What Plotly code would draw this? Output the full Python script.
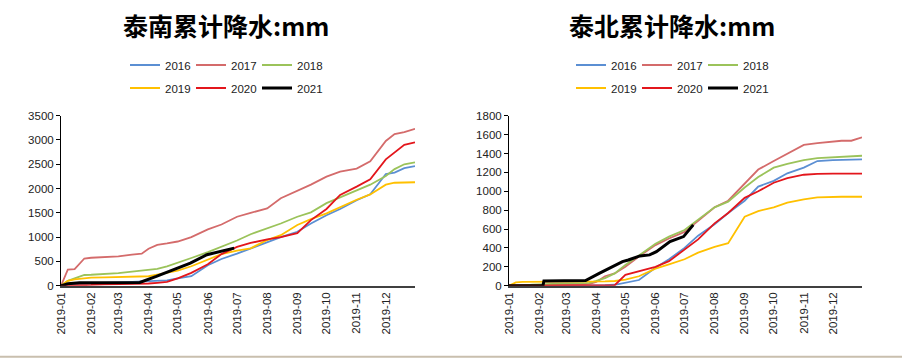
import plotly.graph_objects as go

# ---------------- data ----------------
DATES = ["2019-01-01", "2019-01-08", "2019-01-15", "2019-01-25", "2019-02-01", "2019-02-15",
         "2019-03-01", "2019-03-15", "2019-03-25", "2019-04-01", "2019-04-10", "2019-04-20",
         "2019-05-01", "2019-05-15", "2019-06-01", "2019-06-15", "2019-07-01", "2019-07-15",
         "2019-08-01", "2019-08-15", "2019-09-01", "2019-09-15", "2019-10-01", "2019-10-15",
         "2019-11-01", "2019-11-15", "2019-12-01", "2019-12-10", "2019-12-20", "2019-12-31"]

YEARS = ["2016", "2017", "2018", "2019", "2020", "2021"]

# 泰南 (south)
S2016 = [0, 30, 40, 50, 55, 60, 70, 80, 90, 100, 105, 110, 150, 195, 420, 550, 660, 770,
         905, 1000, 1110, 1280, 1450, 1580, 1760, 1880, 2300, 2330, 2420, 2460]
S2017 = [0, 330, 340, 560, 575, 590, 605, 640, 660, 760, 840, 870, 910, 1000, 1160, 1260, 1420, 1500,
         1590, 1800, 1955, 2080, 2245, 2350, 2410, 2560, 2980, 3120, 3160, 3230]
S2018 = [0, 100, 150, 220, 225, 240, 260, 290, 310, 325, 345, 400, 470, 570, 690, 800, 930, 1060,
         1180, 1280, 1420, 1510, 1700, 1820, 1970, 2080, 2260, 2400, 2500, 2540]
S2019 = [0, 100, 130, 155, 165, 170, 175, 180, 185, 195, 230, 270, 310, 400, 540, 650, 720, 770,
         940, 1040, 1250, 1370, 1490, 1620, 1770, 1880, 2080, 2120, 2130, 2130]
S2020 = [0, 0, 5, 10, 15, 30, 35, 35, 40, 45, 60, 80, 150, 265, 440, 650, 800, 880,
         955, 1000, 1080, 1350, 1580, 1870, 2040, 2190, 2600, 2740, 2900, 2950]
S2021_DATES = ["2019-01-01", "2019-01-08", "2019-01-20", "2019-03-23", "2019-04-09", "2019-04-26",
               "2019-05-14", "2019-05-31", "2019-06-13", "2019-06-28"]
S2021 = [0, 40, 60, 68, 192, 329, 466, 637, 705, 774]

# 泰北 (north)
N2016 = [0, 0, 0, 0, 0, 0, 0, 0, 0, 0, 5, 10, 30, 60, 190, 280, 400, 530,
         650, 770, 900, 1050, 1110, 1190, 1250, 1320, 1330, 1330, 1335, 1337]
N2017 = [0, 0, 0, 5, 5, 10, 10, 15, 20, 40, 100, 130, 200, 310, 430, 500, 570, 690,
         830, 900, 1080, 1230, 1320, 1400, 1490, 1510, 1530, 1535, 1535, 1570]
N2018 = [0, 0, 0, 10, 15, 20, 25, 25, 30, 50, 80, 130, 220, 320, 445, 520, 590, 700,
         830, 890, 1040, 1150, 1250, 1290, 1330, 1350, 1360, 1360, 1370, 1376]
N2019 = [0, 35, 40, 40, 40, 40, 40, 40, 40, 40, 45, 50, 65, 100, 180, 225, 280, 350,
         410, 450, 730, 790, 830, 880, 915, 935, 942, 942, 942, 942]
N2020 = [0, 0, 0, 0, 0, 0, 0, 0, 0, 0, 0, 5, 115, 155, 200, 260, 380, 490,
         660, 770, 930, 1000, 1090, 1140, 1175, 1185, 1186, 1186, 1186, 1186]
N2021_DATES = ["2019-01-01", "2019-02-05", "2019-02-06", "2019-03-21", "2019-04-04", "2019-04-14",
               "2019-04-28", "2019-05-04", "2019-05-16", "2019-05-26", "2019-06-02", "2019-06-16",
               "2019-06-30", "2019-07-10"]
N2021 = [0, 0, 50, 55, 131, 184, 255, 272, 315, 326, 361, 467, 520, 644]

COLORS = ["#5B8FD3", "#D46B6B", "#9BC35A", "#FFC000", "#E3161C", "#000000"]
WIDTHS = [1.8, 1.8, 1.8, 1.8, 1.8, 3]

TITLE_S = "泰南累计降水:mm"
TITLE_N = "泰北累计降水:mm"

W, H = 902, 358

fig = go.Figure()

south = [(DATES, S2016), (DATES, S2017), (DATES, S2018), (DATES, S2019), (DATES, S2020), (S2021_DATES, S2021)]
north = [(DATES, N2016), (DATES, N2017), (DATES, N2018), (DATES, N2019), (DATES, N2020), (N2021_DATES, N2021)]

for i, (xs, ys) in enumerate(south):
    fig.add_trace(go.Scatter(x=xs, y=ys, mode="lines", name=YEARS[i],
                             line=dict(color=COLORS[i], width=WIDTHS[i]),
                             xaxis="x", yaxis="y",
                             legend="legend" if i < 3 else "legend2"))
for i, (xs, ys) in enumerate(north):
    fig.add_trace(go.Scatter(x=xs, y=ys, mode="lines", name=YEARS[i],
                             line=dict(color=COLORS[i], width=WIDTHS[i]),
                             xaxis="x2", yaxis="y2",
                             legend="legend3" if i < 3 else "legend4"))

tickfont = dict(family="Liberation Sans, Arial", size=11.5, color="#222222")
ydom = [1 - 285.7 / H, 1 - 115.7 / H]

xcommon = dict(type="date", range=["2019-01-01", "2019-12-31"], tickformat="%Y-%m",
               dtick="M1", tick0="2019-01-01", tickangle=-90, ticks="",
               showline=True, linecolor="#404040", linewidth=2, showgrid=False,
               zeroline=False, tickfont=tickfont, fixedrange=True, automargin=False)
ycommon = dict(showline=True, linecolor="#000000", linewidth=1, ticks="outside",
               ticklen=4, tickcolor="#000000", showgrid=False, zeroline=False,
               tickfont=tickfont, domain=ydom, automargin=False)

legcommon = dict(orientation="h", xanchor="left", yanchor="middle",
                 bgcolor="rgba(0,0,0,0)", font=dict(family="Liberation Sans, Arial", size=11.5, color="#222222"),
                 entrywidth=21, entrywidthmode="pixels", itemwidth=30, tracegroupgap=0)

fig.update_layout(
    width=W, height=H,
    margin=dict(l=0, r=0, t=0, b=0, autoexpand=False),
    paper_bgcolor="white", plot_bgcolor="white",
    xaxis=dict(domain=[61 / W, 415 / W], anchor="y", **xcommon),
    yaxis=dict(range=[0, 3500], dtick=500, anchor="x", **ycommon),
    xaxis2=dict(domain=[509 / W, 862 / W], anchor="y2", **xcommon),
    yaxis2=dict(range=[0, 1800], dtick=200, anchor="x2", **ycommon),
    legend=dict(x=125 / W, y=1 - 65 / H, **legcommon),
    legend2=dict(x=125 / W, y=1 - 88 / H, **legcommon),
    legend3=dict(x=571 / W, y=1 - 65 / H, **legcommon),
    legend4=dict(x=571 / W, y=1 - 88 / H, **legcommon),
    annotations=[
        dict(text=TITLE_S, x=225.5 / W, y=1 - 25 / H, xref="paper", yref="paper",
             xanchor="center", yanchor="middle", showarrow=False,
             font=dict(family="Noto Sans CJK SC", size=25, color="#000000", weight="bold")),
        dict(text=TITLE_N, x=672 / W, y=1 - 25 / H, xref="paper", yref="paper",
             xanchor="center", yanchor="middle", showarrow=False,
             font=dict(family="Noto Sans CJK SC", size=25, color="#000000", weight="bold")),
    ],
    shapes=[dict(type="line", xref="paper", yref="paper", x0=0, x1=1,
                 y0=1.2 / H, y1=1.2 / H, line=dict(color="#C9BFAE", width=2))],
)

fig.write_html("out.html", config={"displayModeBar": False},
               post_script="document.body.style.margin='0';document.body.style.overflow='hidden';")
